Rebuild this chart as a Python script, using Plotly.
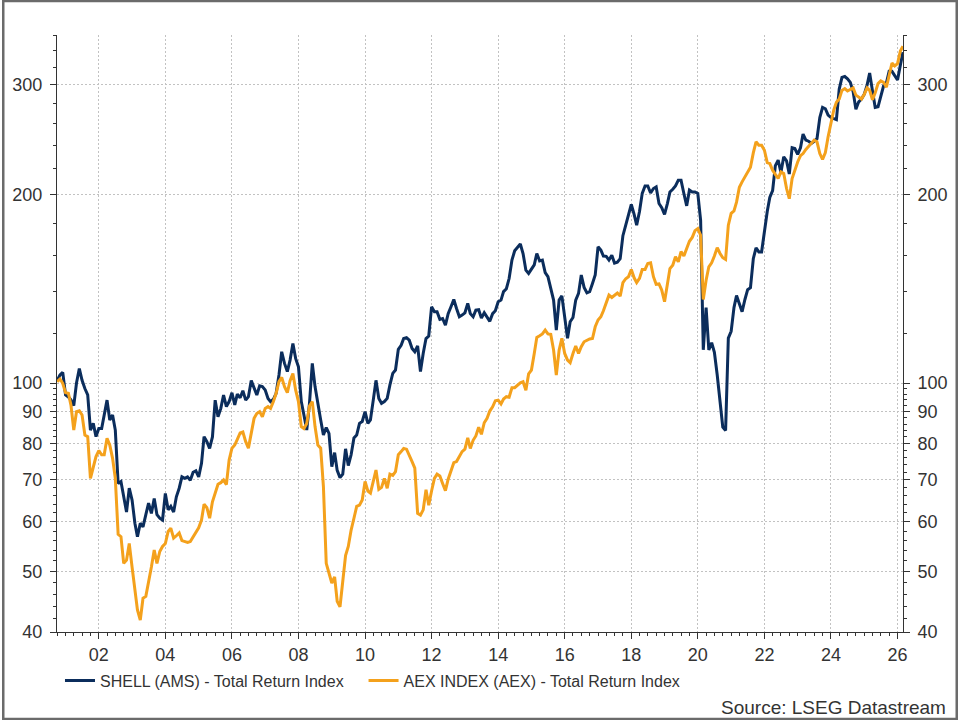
import plotly.graph_objects as go
import pandas as pd
import math

# Monthly observations, first point Oct 2000, last point Mar 2026
start_month = "2000-10-01"

shell = [
    101, 103, 104, 95.7, 95, 94, 92, 100, 105.5, 101, 98, 95.7,
    84.1, 86.2, 82.1, 84.6, 84.6, 88.9, 93.9, 87.3, 88.9, 84.1, 69.1, 69.6,
    65.8, 62.2, 67.9, 65, 59.7, 56.8, 59.7, 58.9, 61.6, 64.3, 61.9, 65.4,
    61.6, 60.8, 60.4, 66.6, 62.7, 63.5, 62.2, 65.8, 67.9, 70.8, 70.4, 70.8,
    69.9, 72.0, 72.4, 70.8, 74.4, 82.1, 80.6, 78.6, 82, 93.9, 88.3, 91.1,
    95.7, 91.7, 93.4, 96.5, 92.3, 96.0, 94.7, 97.2, 93.9, 95.1, 100.9, 98.1,
    95.7, 99, 98.7, 97.5, 94.5, 93.4, 94.2, 96.3, 103, 112.2, 107.5, 104.3,
    108.8, 115.7, 109.5, 106.2, 93.4, 88.9, 84.1, 92.8, 107.5, 98.7, 92.3, 87.3,
    82.6, 84.9, 83.1, 73.5, 77.4, 72.5, 70.6, 71.5, 78.5, 73.8, 76.8, 81.7,
    82.6, 86.2, 86.8, 90.0, 86.2, 87.3, 93.9, 101, 94.5, 92.8, 93.4, 94.5,
    99.3, 103.6, 104.9, 113.2, 114.9, 117.8, 118.2, 117.1, 113.6, 112.2, 114.6, 104.3,
    111.5, 117.8, 118.9, 132.4, 130.0, 130.0, 126.4, 126.8, 123.8, 129.1, 132.4, 136.0,
    131.6, 127.6, 128.4, 129.5, 134.1, 129.1, 127.6, 130.8, 131, 127, 129.5, 127.3,
    125.5, 129.1, 130.5, 134.9, 135.7, 140, 141.5, 146.9, 157.2, 162.7, 164.7, 166.8,
    161.1, 151.5, 149.7, 151.9, 154.5, 161.1, 156.7, 157.2, 150.1, 147.9, 142.2, 135.7,
    121.5, 135.7, 137.8, 127.6, 117.9, 125.3, 127.3, 135.7, 139.1, 148.8, 142.2, 139.4,
    140, 144.3, 148.8, 165.1, 163.1, 159.6, 159.4, 157.2, 160, 155.5, 156, 158,
    172, 178.8, 186, 193, 186, 178.8, 188, 201, 206.5, 206.5, 201.3, 204.6,
    205.8, 193.6, 190.7, 186, 193.6, 202, 204, 206.5, 211, 211, 200.9, 192,
    203.4, 202, 202, 200.9, 182, 113, 132, 113, 116, 112, 103, 93,
    85, 84, 118, 121, 132, 138, 134, 130, 136, 141, 142, 158,
    164.5, 162, 162, 175, 188, 198, 203, 222.6, 227.1, 217, 230, 226.5,
    215.8, 237.7, 237, 232, 237.7, 250, 244.5, 243.5, 241.5, 243.3, 245.8, 265.7,
    275.8, 274.4, 268, 265.7, 264.4, 263.7, 295, 308, 309, 306.4, 302.4, 292,
    274, 281.5, 284.4, 289.5, 299.3, 313, 293, 275.8, 276.4, 288.5, 298.6, 301.8,
    314.9, 314.9, 310.2, 305, 322.2, 338,
]

aex = [
    100.5, 101.5, 99.9, 96.5, 96.3, 92.2, 84.1, 90, 90.3, 88.9, 82.6, 82.1,
    70.4, 73.1, 76.3, 78.0, 76.8, 76.8, 81.6, 79.6, 75.8, 70.4, 57.3, 56.8,
    51.5, 52.1, 55.4, 50.8, 47, 43.4, 41.8, 45.3, 45.6, 47.9, 50.8, 54.1,
    51.5, 53.8, 54.8, 55.4, 57.9, 58.6, 56.5, 57.0, 57.6, 56.0, 55.8, 55.6,
    55.8, 56.8, 57.9, 58.7, 60.4, 64.0, 63.2, 60.8, 64.6, 67.0, 68.9, 69.3,
    70.0, 68.8, 75.3, 78.7, 79.6, 81.3, 83.2, 83.5, 80.6, 78.7, 83.1, 87.8,
    89.4, 90, 88.3, 91.1, 91.7, 91.1, 93.4, 96.3, 100.5, 102.1, 98.7, 96.5,
    100.9, 103.6, 97.5, 93.4, 85.2, 84.6, 86.2, 91.9, 93.4, 85.2, 79.6, 78.7,
    68.3, 51.5, 49.7, 47.9, 49.0, 44.8, 43.9, 48.2, 53.0, 54.8, 58.2, 60.8,
    63.5, 63.8, 65, 69.6, 67.2, 66.7, 69.8, 72.6, 67.6, 68.1, 70.4, 67.9,
    71.5, 71.2, 72.2, 76.8, 77.7, 78.6, 78.4, 76.8, 74.9, 73.1, 61.9, 61.5,
    62.7, 67.5, 63.8, 67.2, 70.4, 71.5, 71.0, 69.1, 67.3, 70.2, 72.6, 74.6,
    74.9, 76.3, 77.7, 78.4, 81.7, 78.6, 81.0, 82.3, 85, 82.8, 86.4, 87.8,
    90.2, 91.6, 93.7, 93.9, 92.6, 94.3, 95.1, 94.9, 98.3, 98.3, 99.3, 100.1,
    100.5, 97.4, 103.4, 104.9, 111.5, 118.3, 119.0, 119.8, 121.5, 119.8, 119.6, 112.9,
    103.0, 112.9, 117.9, 111.5, 108.8, 107.8, 111.5, 114.6, 111.5, 114.3, 116.4, 117.1,
    117.6, 117.8, 123, 126.1, 127.6, 130.5, 134.1, 138.2, 137.0, 138.2, 139.3, 137.7,
    144.7, 146.8, 147.9, 151.9, 147.3, 144.7, 147, 151.9, 151.9, 155.3, 155.7, 147.9,
    143.8, 144, 140.8, 134.9, 144.7, 152.4, 154.3, 159.2, 156.2, 162.2, 159.6, 164.6,
    168.5, 170.9, 175.2, 176.6, 172.3, 136, 146, 153.4, 155.7, 159.6, 164.6, 161.1,
    158.6, 157.6, 178.8, 186.7, 188.4, 194.6, 205.5, 209.7, 213.6, 216.8, 221.3, 233.3,
    243, 240, 240, 235.6, 225, 224.3, 218.9, 215.5, 212.3, 217.5, 216.3, 204.6,
    197.1, 212.3, 218.9, 225.6, 230.9, 232.7, 236.2, 239, 241.5, 244.5, 243, 232.7,
    227.7, 233.5, 247.5, 261.5, 273.1, 281.1, 284.4, 293.6, 295.6, 293, 294.7, 296.3,
    288.5, 286, 284.4, 289.5, 296.3, 293.6, 283.7, 291, 301, 304, 302.4, 297,
    309, 324.8, 321.2, 324, 339.5, 345.4,
]

series_names = ["SHELL (AMS) - Total Return Index", "AEX INDEX (AEX) - Total Return Index"]
series_colors = ["#0b2d5c", "#f4a11c"]

y_major = [40, 50, 60, 70, 80, 90, 100, 200, 300]
y_minor = [42, 44, 46, 48, 52, 54, 56, 58, 62, 64, 66, 68, 72, 74, 76, 78,
           82, 84, 86, 88, 92, 94, 96, 98, 120, 140, 160, 180, 220, 240, 260,
           280, 320, 340, 360]
y_lo, y_hi = 40, 360
x_range = ["2000-09-29", "2026-03-02"]
source_text = "Source: LSEG Datastream"

dates = pd.date_range(start_month, periods=len(shell), freq="MS")

FONT = "Liberation Sans, Arial, sans-serif"
TXT = "#333333"
AX = "#333333"
GRID = "#c2c2c2"

fig = go.Figure()
fig.add_trace(go.Scatter(x=dates, y=shell, mode="lines", name=series_names[0],
                         line=dict(color=series_colors[0], width=3), yaxis="y",
                         legend="legend"))
fig.add_trace(go.Scatter(x=dates, y=aex, mode="lines", name=series_names[1],
                         line=dict(color=series_colors[1], width=3), yaxis="y2",
                         legend="legend2"))

yrange = [math.log10(y_lo), math.log10(y_hi)]

yax_common = dict(
    type="log", range=yrange, tickmode="array", tickvals=y_major,
    ticktext=[str(v) for v in y_major], ticks="outside", ticklen=6, tickwidth=1,
    tickcolor=AX, showline=True, linecolor=AX, linewidth=1,
    tickfont=dict(family=FONT, size=18, color=TXT), zeroline=False,
    ticklabelstandoff=4,
    minor=dict(tickmode="array", tickvals=y_minor, ticks="outside", ticklen=3,
               tickwidth=1, tickcolor=AX, showgrid=False),
)

legend_common = dict(orientation="h", xanchor="left", y=-0.053, yanchor="top",
                     font=dict(family=FONT, size=16, color=TXT),
                     bgcolor="rgba(0,0,0,0)")

fig.update_layout(
    width=960, height=720,
    margin=dict(l=55, r=55, t=35, b=88),
    paper_bgcolor="white", plot_bgcolor="white",
    font=dict(family=FONT, color=TXT),
    xaxis=dict(
        type="date", range=x_range, tick0="2002-01-01", dtick="M24",
        tickformat="%y", ticks="outside", ticklen=6, tickwidth=1, tickcolor=AX,
        showline=True, linecolor=AX, linewidth=1, showgrid=True,
        gridcolor=GRID, griddash="2px,2px", gridwidth=1,
        tickfont=dict(family=FONT, size=18, color=TXT), ticklabelstandoff=0,
        minor=dict(tick0="2002-01-01", dtick="M3", ticks="outside", ticklen=3,
                   tickwidth=1, tickcolor=AX, showgrid=False),
        zeroline=False,
    ),
    yaxis=dict(side="left", showgrid=True, gridcolor=GRID, griddash="2px,2px",
               gridwidth=1, **yax_common),
    yaxis2=dict(side="right", overlaying="y", showgrid=False, **yax_common),
    showlegend=True,
    legend=dict(x=(58 - 55) / 850, **legend_common),
    legend2=dict(x=(363 - 55) / 850, **legend_common),
)

fig.add_annotation(text=source_text, xref="paper", yref="paper",
                   x=(950 - 55) / 850, y=(632 - 707) / 597, xanchor="right",
                   yanchor="middle", showarrow=False,
                   font=dict(family=FONT, size=19, color=TXT))

# outer frame of the picture
fig.add_shape(type="rect", xref="paper", yref="paper",
              x0=(1 - 55) / 850, x1=(959 - 55) / 850,
              y0=(632 - 719) / 597, y1=(632 - 1) / 597,
              line=dict(color="#6b6b6b", width=2.5), fillcolor="rgba(0,0,0,0)",
              layer="above")

fig.write_html("out.html")
